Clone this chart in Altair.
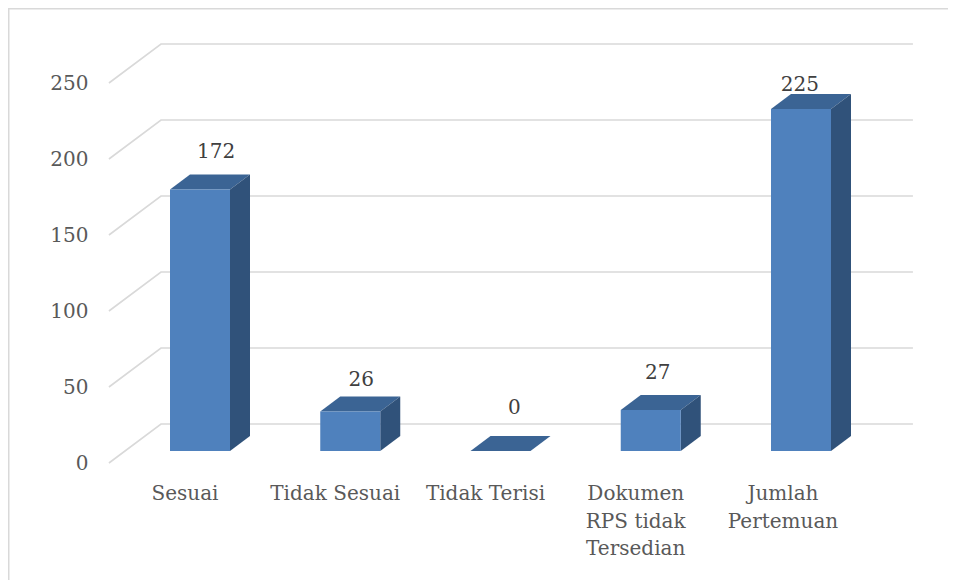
import altair as alt
import pandas as pd

categories = ["Sesuai", "Tidak Sesuai", "Tidak Terisi", "Dokumen\nRPS tidak\nTersedian", "Jumlah\nPertemuan"]
values = [172, 26, 0, 27, 225]
y_ticks = [0, 50, 100, 150, 200, 250]

# data-label nudges (in x units / value units) relative to the bar's top
label_dx = [0.107, 0.073, 0.093, 0.047, -0.007]
label_dy = [24.4, 20.5, 28.2, 24.4, 15.9]
# category-label nudges (x units)
cat_dx = [-0.10, -0.10, -0.10, -0.10, -0.12]

W, H = 940, 572
PX_U = 150.25   # px per category step
PX_V = 1.52     # px per value unit
x_dom = [-192 / PX_U, (W - 192) / PX_U]
y_dom = [(455 - H) / PX_V, 455 / PX_V]
xs = alt.Scale(domain=x_dom, nice=False, zero=False)
ys = alt.Scale(domain=y_dom, nice=False, zero=False)

HALF = 30 / PX_U
DX = 20 / PX_U
DY = 15 / PX_V
BASE = 12 / PX_V
WALL_DX0, WALL_DX1, WALL_END = -0.606, -0.2596, 4.745
WALL_DY = 39 / PX_V

FONT = "DejaVu Serif"
FS = 20

grid = []
for t in y_ticks:
    grid += [
        {"t": t, "x": WALL_DX0, "y": t},
        {"t": t, "x": WALL_DX1, "y": t + WALL_DY},
        {"t": t, "x": WALL_END, "y": t + WALL_DY},
    ]

front, top, side, labels, cats = [], [], [], [], []
for i, (c, v) in enumerate(zip(categories, values)):
    l, r = i - HALF, i + HALF
    b, h = BASE, BASE + v
    front.append({"x": l, "x2": r, "y": b, "y2": h})
    top += [
        {"i": i, "x": l, "y": h, "y2": h},
        {"i": i, "x": l + DX, "y": h + DY, "y2": h},
        {"i": i, "x": r, "y": h + DY, "y2": h},
        {"i": i, "x": r + DX, "y": h + DY, "y2": h + DY},
    ]
    side += [
        {"i": i, "x": r, "y": h, "y2": b},
        {"i": i, "x": r + DX, "y": h + DY, "y2": b + DY},
    ]
    labels.append({"x": i + label_dx[i], "y": h + label_dy[i], "t": str(v)})
    cats.append({"x": i + cat_dx[i], "t": c})

X = alt.X("x:Q", scale=xs, axis=None)
Y = alt.Y("y:Q", scale=ys, stack=False, axis=alt.Axis(
    values=y_ticks, orient="left", offset=-80, domain=False, ticks=False, grid=False,
    labelPadding=0, labelOffset=0.5, labelFont=FONT, labelFontSize=FS, labelColor="#595959",
    title=None, labelFontWeight="normal"))

grid_layer = alt.Chart(pd.DataFrame(grid)).mark_line(color="#d9d9d9", strokeWidth=1.6).encode(
    x=X, y=Y, detail="t:N", order="x:Q"
)
front_layer = alt.Chart(pd.DataFrame(front)).mark_rect(color="#4f81bd").encode(
    x=X, x2="x2:Q", y=Y, y2="y2:Q"
)
top_layer = alt.Chart(pd.DataFrame(top)).mark_area(color="#3b6494", orient="vertical").encode(
    x=X, y=Y, y2="y2:Q", detail="i:N"
)
side_layer = alt.Chart(pd.DataFrame(side)).mark_area(color="#30527a", orient="vertical").encode(
    x=X, y=Y, y2="y2:Q", detail="i:N"
)
label_layer = alt.Chart(pd.DataFrame(labels)).mark_text(
    font=FONT, fontSize=FS, color="#404040", baseline="middle"
).encode(x=X, y=Y, text="t:N")
cat_layer = alt.Chart(pd.DataFrame(cats)).mark_text(
    font=FONT, fontSize=FS, color="#595959", baseline="top", lineBreak="\n", lineHeight=27.5, align="center"
).encode(x=X, y=alt.value(476), text="t:N")
left_rule = alt.Chart(pd.DataFrame({"a": [0]})).mark_rule(color="#d9d9d9", strokeWidth=3).encode(x=alt.value(0))
top_rule = alt.Chart(pd.DataFrame({"a": [0]})).mark_rule(color="#d9d9d9", strokeWidth=3).encode(y=alt.value(0))

chart = alt.layer(
    left_rule, top_rule, grid_layer, top_layer, side_layer, front_layer, label_layer, cat_layer
).properties(width=W, height=H, padding=0, autosize=alt.AutoSizeParams(type="none")).configure_view(stroke=None)

chart.save("out.html", embed_options={"renderer": "svg", "actions": False})
